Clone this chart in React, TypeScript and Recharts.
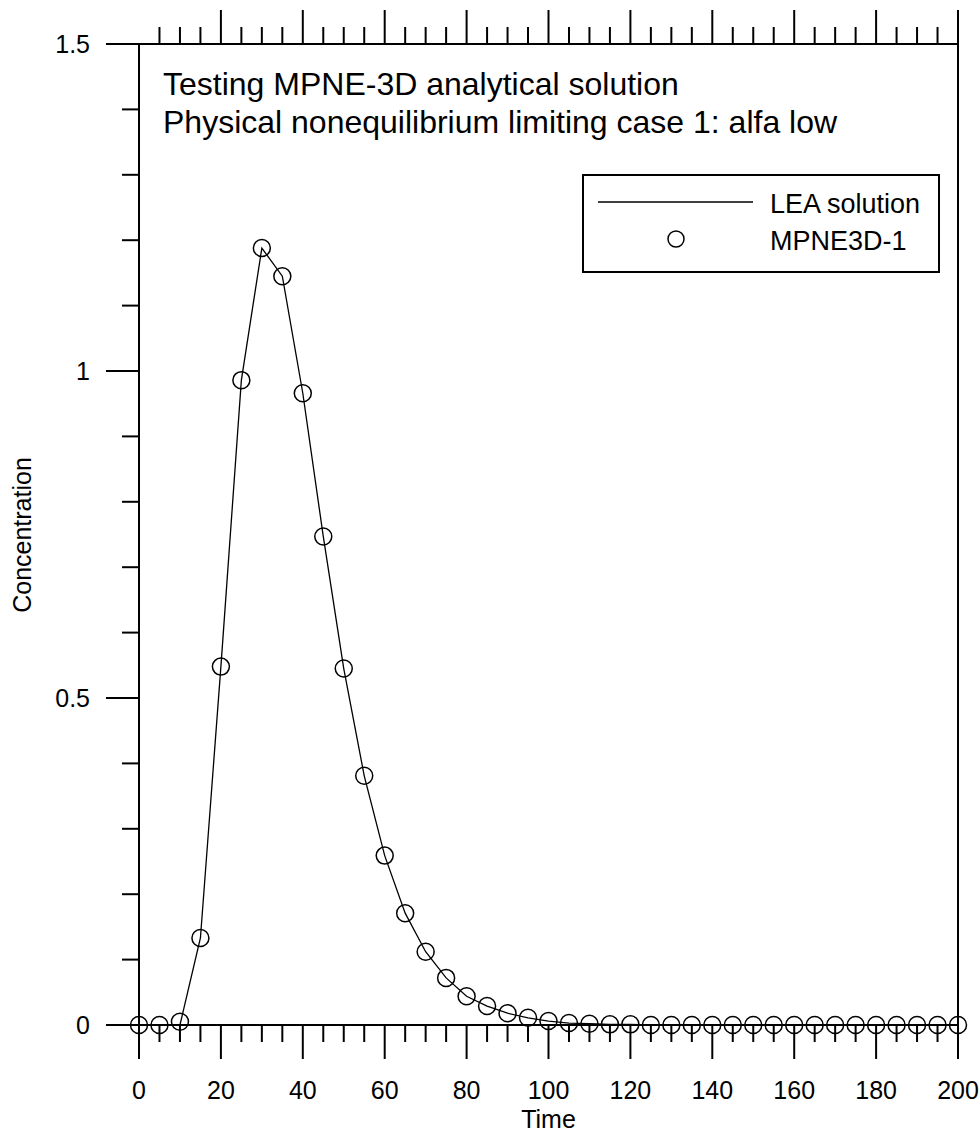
import React from 'react';
import { LineChart, Line, XAxis, YAxis, Legend, Customized } from 'recharts';

const times = [0, 5, 10, 15, 20, 25, 30, 35, 40, 45, 50, 55, 60, 65, 70, 75, 80, 85, 90, 95, 100, 105, 110, 115, 120, 125, 130, 135, 140, 145, 150, 155, 160, 165, 170, 175, 180, 185, 190, 195, 200];
const leaValues = [0, 0, 0, 0.133, 0.548, 0.986, 1.188, 1.145, 0.966, 0.747, 0.545, 0.381, 0.259, 0.171, 0.112, 0.072, 0.044, 0.029, 0.018, 0.011, 0.006, 0.003, 0.002, 0.001, 0.001, 0, 0, 0, 0, 0, 0, 0, 0, 0, 0, 0, 0, 0, 0, 0, 0];
const mpneValues = [0, 0, 0.005, 0.133, 0.548, 0.986, 1.188, 1.145, 0.966, 0.747, 0.545, 0.381, 0.259, 0.171, 0.112, 0.072, 0.044, 0.029, 0.018, 0.011, 0.006, 0.003, 0.002, 0.001, 0.001, 0, 0, 0, 0, 0, 0, 0, 0, 0, 0, 0, 0, 0, 0, 0, 0];

const xTicks = [0, 5, 10, 15, 20, 25, 30, 35, 40, 45, 50, 55, 60, 65, 70, 75, 80, 85, 90, 95, 100, 105, 110, 115, 120, 125, 130, 135, 140, 145, 150, 155, 160, 165, 170, 175, 180, 185, 190, 195, 200];
const xTopTicks = [5, 10, 15, 20, 25, 30, 35, 40, 45, 50, 55, 60, 65, 70, 75, 80, 85, 90, 95, 100, 105, 110, 115, 120, 125, 130, 135, 140, 145, 150, 155, 160, 165, 170, 175, 180, 185, 190, 195, 200];
const xMajorTicks = [0, 20, 40, 60, 80, 100, 120, 140, 160, 180, 200];
const yTicks = [0, 0.1, 0.2, 0.3, 0.4, 0.5, 0.6, 0.7, 0.8, 0.9, 1, 1.1, 1.2, 1.3, 1.4, 1.5];
const yMajorTicks = [0, 0.5, 1, 1.5];

const titleLines = ['Testing MPNE-3D analytical solution', 'Physical nonequilibrium limiting case 1: alfa low'];
const seriesNames = ['LEA solution', 'MPNE3D-1'];

const data = times.map((t, i) => ({ t, lea: leaValues[i], mpne: mpneValues[i] }));

const FONT = '"Liberation Sans", Arial, Helvetica, sans-serif';
const isMajorX = (v: number) => xMajorTicks.some((m) => Math.abs(m - v) < 1e-9);
const isMajorY = (v: number) => yMajorTicks.some((m) => Math.abs(m - v) < 1e-9);

const MAJOR = 34;
const MINOR = 17;

function BottomTick(props: any) {
  const { x, y, payload } = props;
  const v = payload.value;
  const major = isMajorX(v);
  return (
    <g>
      <line x1={x} x2={x} y1={y} y2={y + (major ? MAJOR : MINOR)} stroke="#000" strokeWidth={2} />
      {major && (
        <text x={x} y={y + 74} textAnchor="middle" fontSize={25} fontFamily={FONT} fill="#000">
          {String(v)}
        </text>
      )}
    </g>
  );
}

function TopTick(props: any) {
  const { x, y, payload } = props;
  const major = isMajorX(payload.value);
  return <line x1={x} x2={x} y1={y} y2={y - (major ? MAJOR : MINOR)} stroke="#000" strokeWidth={2} />;
}

function LeftTick(props: any) {
  const { x, y, payload } = props;
  const v = payload.value;
  const major = isMajorY(v);
  return (
    <g>
      <line x1={x} x2={x - (major ? 33 : MINOR)} y1={y} y2={y} stroke="#000" strokeWidth={2} />
      {major && (
        <text x={x - 49} y={y + 9} textAnchor="end" fontSize={25} fontFamily={FONT} fill="#000">
          {String(v)}
        </text>
      )}
    </g>
  );
}

function RightTick(props: any) {
  const { x, y, payload } = props;
  const major = isMajorY(payload.value);
  return <line x1={x} x2={x + (major ? 33 : MINOR)} y1={y} y2={y} stroke="#000" strokeWidth={2} />;
}

function LegendBox() {
  return (
    <svg width={358} height={99} style={{ display: 'block' }}>
      <rect x={1} y={1} width={356} height={97} fill="#fff" stroke="#000" strokeWidth={2} />
      <line x1={16} x2={171} y1={28} y2={28} stroke="#000" strokeWidth={1.3} />
      <text x={188} y={39} fontSize={27} fontFamily={FONT} fill="#000">{seriesNames[0]}</text>
      <circle cx={94} cy={65} r={8} fill="none" stroke="#000" strokeWidth={1.5} />
      <text x={188} y={76} fontSize={27} fontFamily={FONT} fill="#000">{seriesNames[1]}</text>
    </svg>
  );
}

function Annotations() {
  return (
    <g fontFamily={FONT} fill="#000">
      <text x={163} y={95} fontSize={32}>{titleLines[0]}</text>
      <text x={163} y={133} fontSize={32}>{titleLines[1]}</text>
      <text x={548.5} y={1128} fontSize={25} textAnchor="middle">Time</text>
      <text transform="translate(31,535) rotate(-90)" fontSize={25} textAnchor="middle">Concentration</text>
    </g>
  );
}

export default function App() {
  return (
    <div style={{ position: 'absolute', left: 0, top: 0, width: 980, height: 1133, background: '#fff' }}>
      <LineChart width={980} height={1133} data={data} margin={{ top: 0, right: 0, bottom: 0, left: 0 }}>
        <XAxis
          xAxisId="b"
          dataKey="t"
          type="number"
          orientation="bottom"
          domain={[0, 200]}
          ticks={xTicks}
          interval={0}
          height={108}
          tickSize={0}
          tickMargin={0}
          tickLine={false}
          tick={(p: any) => <BottomTick {...p} />}
          axisLine={{ stroke: '#000', strokeWidth: 2 }}
        />
        <XAxis
          xAxisId="t"
          dataKey="t"
          type="number"
          orientation="top"
          domain={[0, 200]}
          ticks={xTopTicks}
          interval={0}
          height={44}
          tickSize={0}
          tickMargin={0}
          tickLine={false}
          tick={(p: any) => <TopTick {...p} />}
          axisLine={{ stroke: '#000', strokeWidth: 2 }}
        />
        <YAxis
          yAxisId="l"
          type="number"
          orientation="left"
          domain={[0, 1.5]}
          ticks={yTicks}
          interval={0}
          width={139}
          tickSize={0}
          tickMargin={0}
          tickLine={false}
          tick={(p: any) => <LeftTick {...p} />}
          axisLine={{ stroke: '#000', strokeWidth: 2 }}
        />
        <YAxis
          yAxisId="r"
          type="number"
          orientation="right"
          domain={[0, 1.5]}
          ticks={yTicks}
          interval={0}
          width={22}
          tickSize={0}
          tickMargin={0}
          tickLine={false}
          tick={(p: any) => <RightTick {...p} />}
          axisLine={{ stroke: '#000', strokeWidth: 2 }}
        />
        <Line
          xAxisId="b"
          yAxisId="l"
          type="linear"
          dataKey="lea"
          name={seriesNames[0]}
          stroke="#000"
          strokeWidth={1.3}
          dot={false}
          activeDot={false}
          isAnimationActive={false}
        />
        <Line
          xAxisId="b"
          yAxisId="l"
          type="linear"
          dataKey="mpne"
          name={seriesNames[1]}
          stroke="none"
          dot={{ r: 8.5, stroke: '#000', strokeWidth: 1.5, fill: 'none' }}
          activeDot={false}
          isAnimationActive={false}
        />
        <Legend
          layout="vertical"
          align="center"
          verticalAlign="middle"
          wrapperStyle={{ left: 582, top: 174, width: 358, height: 99 }}
          content={() => <LegendBox />}
        />
        <Customized component={Annotations} />
      </LineChart>
    </div>
  );
}
